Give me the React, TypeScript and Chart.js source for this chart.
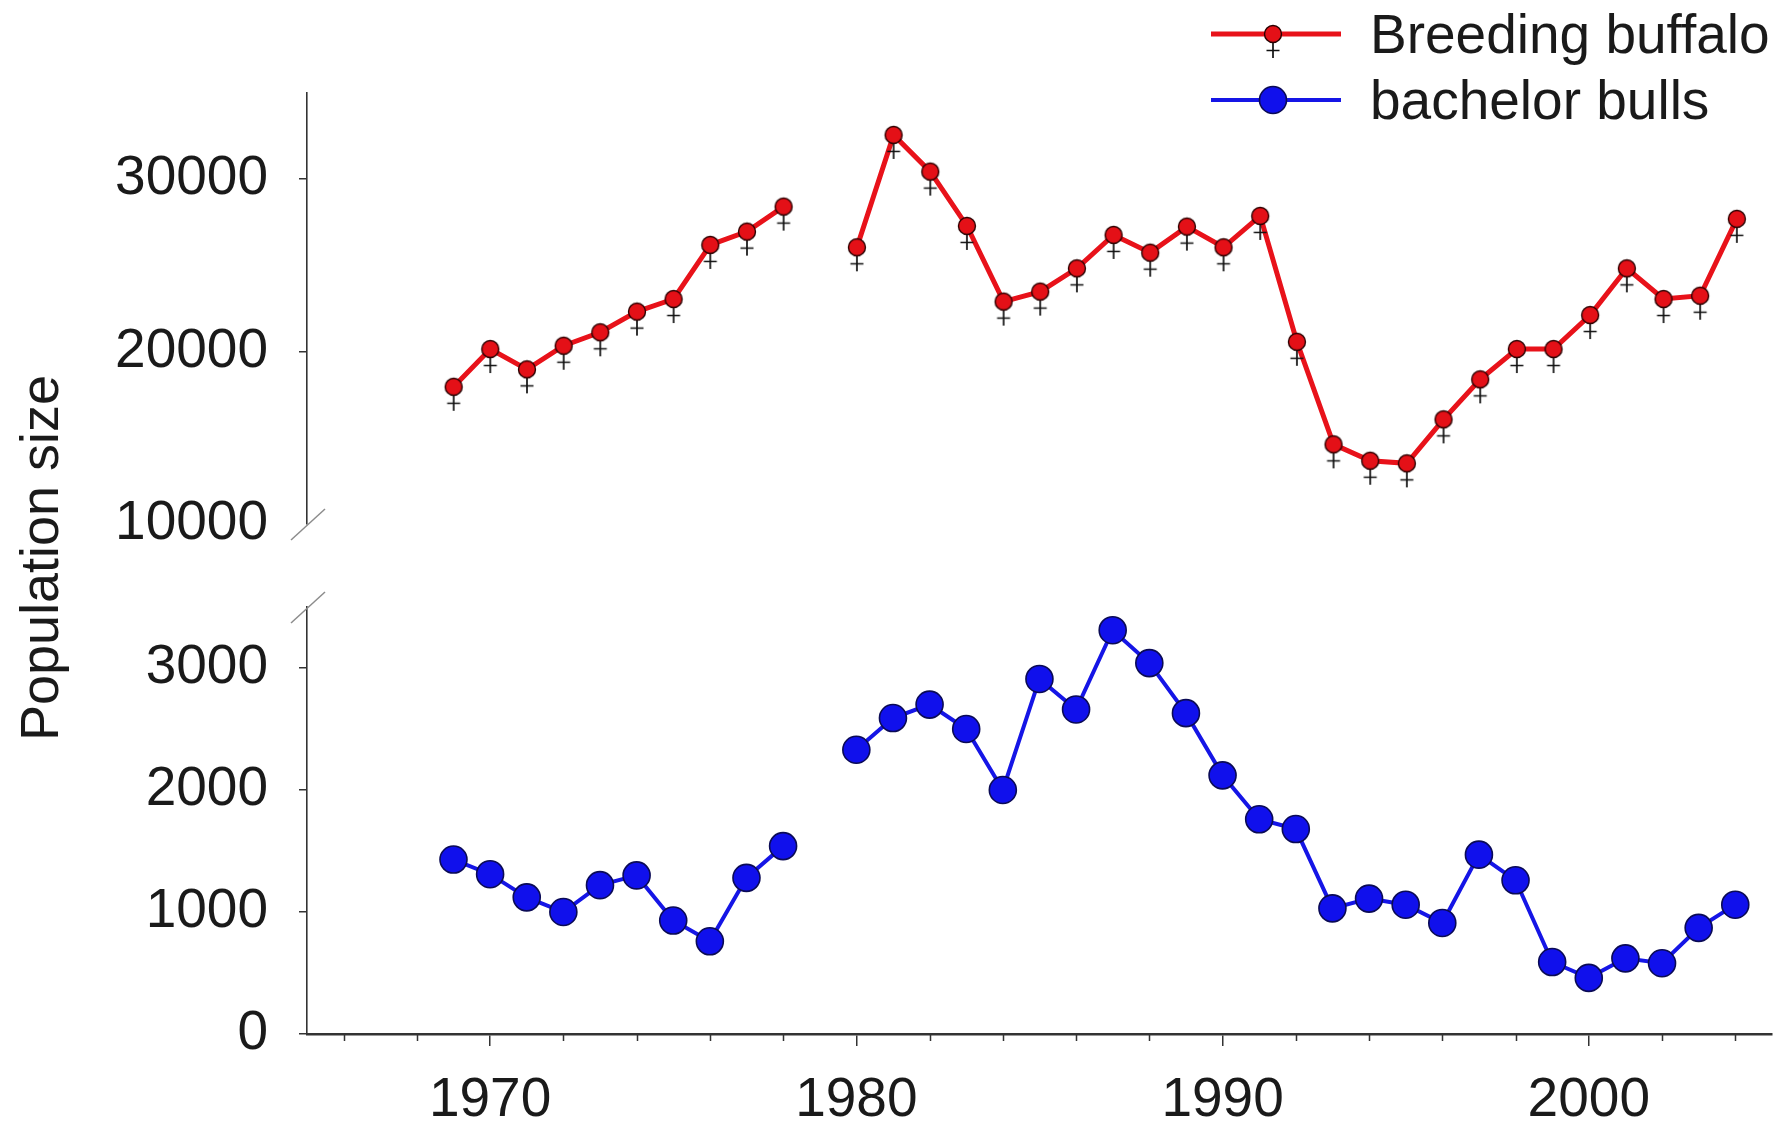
import React, { useEffect, useRef } from 'react';
import { Chart, registerables } from 'chart.js';

Chart.register(...registerables);

// ---------------- data ----------------
const YEARS = [
  1969, 1970, 1971, 1972, 1973, 1974, 1975, 1976, 1977, 1978, 1979,
  1980, 1981, 1982, 1983, 1984, 1985, 1986, 1987, 1988, 1989,
  1990, 1991, 1992, 1993, 1994, 1995, 1996, 1997, 1998, 1999,
  2000, 2001, 2002, 2003, 2004,
];
const BREEDING = [
  17960, 20150, 18970, 20340, 21120, 22320, 23050, 26190, 26960, 28410, null,
  26050, 32570, 30440, 27290, 22900, 23480, 24830, 26770, 25740, 27250,
  26050, 27870, 20570, 14620, 13670, 13520, 16070, 18390, 20150, 20150,
  22120, 24830, 23050, 23240, 27700,
];
const BULLS = [
  1430, 1310, 1120, 1000, 1220, 1300, 930, 760, 1280, 1540, null,
  2330, 2590, 2700, 2500, 2000, 2910, 2660, 3310, 3040, 2630,
  2120, 1760, 1680, 1030, 1110, 1060, 910, 1470, 1260, 590,
  460, 620, 580, 870, 1060,
];
const SERIES_LABELS = ['Breeding buffalo', 'bachelor bulls'];
const Y_TITLE = 'Population size';
const X_RANGE = [1965, 2005];
const TOP_Y_RANGE = [10000, 35000];
const BOTTOM_Y_RANGE = [0, 3500];
const TOP_Y_TICKS = [10000, 20000, 30000];
const BOTTOM_Y_TICKS = [0, 1000, 2000, 3000];
const X_MAJOR_TICKS = [1970, 1980, 1990, 2000];
const X_MINOR_TICKS = [1966, 1968, 1972, 1974, 1976, 1978, 1982, 1984, 1986, 1988, 1992, 1994, 1996, 1998, 2002, 2004];

// ---------------- styles ----------------
const W = 1787;
const H = 1128;
const FONT = "'Liberation Sans', Arial, Helvetica, sans-serif";
const FONT_SIZE = 55;
const TITLE_SIZE = 54;
const TEXT = '#1a1a1a';
const AXIS = '#333333';
const RED = '#e8121a';
const RED_FILL = '#e41017';
const BLUE = '#1515e6';
const BLUE_FILL = '#1010ec';
const BLUE_EDGE = '#0b0b55';
const RED_WIDTH = 5;
const BLUE_WIDTH = 4;

function makeRedMarker(): HTMLCanvasElement {
  const c = document.createElement('canvas');
  c.width = 28;
  c.height = 52;
  const ctx = c.getContext('2d')!;
  const cx = 14;
  const cy = 26;
  // cross below the circle
  ctx.strokeStyle = '#111';
  ctx.lineWidth = 1.7;
  ctx.beginPath();
  ctx.moveTo(cx, cy + 9);
  ctx.lineTo(cx, cy + 24);
  ctx.moveTo(cx - 6.5, cy + 16.5);
  ctx.lineTo(cx + 6.5, cy + 16.5);
  ctx.stroke();
  // circle
  ctx.beginPath();
  ctx.arc(cx, cy, 8.5, 0, Math.PI * 2);
  ctx.fillStyle = RED_FILL;
  ctx.fill();
  ctx.lineWidth = 1.4;
  ctx.strokeStyle = '#2a0000';
  ctx.stroke();
  return c;
}

function makeBlueMarker(): HTMLCanvasElement {
  const c = document.createElement('canvas');
  c.width = 32;
  c.height = 32;
  const ctx = c.getContext('2d')!;
  ctx.beginPath();
  ctx.arc(16, 16, 13.5, 0, Math.PI * 2);
  ctx.fillStyle = BLUE_FILL;
  ctx.fill();
  ctx.lineWidth = 1.6;
  ctx.strokeStyle = BLUE_EDGE;
  ctx.stroke();
  return c;
}

const breakMarkPlugin = {
  id: 'breakMark',
  afterDraw(chart: any, _args: any, opts: any) {
    const { ctx, chartArea } = chart;
    const x = chartArea.left;
    const y = opts.at === 'bottom' ? chartArea.bottom : chartArea.top;
    ctx.save();
    ctx.strokeStyle = '#8c8c8c';
    ctx.lineWidth = 1.5;
    ctx.beginPath();
    ctx.moveTo(x - 16, y + 16);
    ctx.lineTo(x + 18, y - 15);
    ctx.stroke();
    ctx.restore();
  },
};

const minorTickPlugin = {
  id: 'minorTicks',
  afterDraw(chart: any) {
    const { ctx, chartArea, scales } = chart;
    const xs = scales.x;
    ctx.save();
    ctx.strokeStyle = AXIS;
    ctx.lineWidth = 1.5;
    ctx.beginPath();
    X_MINOR_TICKS.forEach((v) => {
      const px = Math.round(xs.getPixelForValue(v)) + 0.5;
      ctx.moveTo(px, chartArea.bottom);
      ctx.lineTo(px, chartArea.bottom + 7);
    });
    ctx.stroke();
    ctx.restore();
  },
};

const yTitlePlugin = {
  id: 'yTitle',
  afterDraw(chart: any) {
    const { ctx } = chart;
    ctx.save();
    ctx.translate(58, 558);
    ctx.rotate(-Math.PI / 2);
    ctx.font = `${TITLE_SIZE}px ${FONT}`;
    ctx.fillStyle = TEXT;
    ctx.textAlign = 'center';
    ctx.textBaseline = 'alphabetic';
    ctx.fillText(Y_TITLE, 0, 0);
    ctx.restore();
  },
};

const legendPlugin = {
  id: 'sideLegend',
  afterDraw(chart: any, _args: any, opts: any) {
    const { ctx } = chart;
    const items = opts.items as { label: string; color: string; width: number; marker: HTMLCanvasElement }[];
    ctx.save();
    items.forEach((it, i) => {
      const y = 34 + i * 66;
      ctx.strokeStyle = it.color;
      ctx.lineWidth = it.width;
      ctx.beginPath();
      ctx.moveTo(1211, y);
      ctx.lineTo(1341, y);
      ctx.stroke();
      ctx.drawImage(it.marker, 1273 - it.marker.width / 2, y - it.marker.height / 2);
      ctx.font = `${FONT_SIZE}px ${FONT}`;
      ctx.fillStyle = TEXT;
      ctx.textAlign = 'left';
      ctx.textBaseline = 'alphabetic';
      ctx.fillText(it.label, 1370, y + 19);
    });
    ctx.restore();
  },
};

function yScale(range: number[], ticks: number[], hideTick?: number) {
  return {
    type: 'linear',
    min: range[0],
    max: range[1],
    afterFit: (s: any) => {
      s.width = 307;
    },
    afterBuildTicks: (s: any) => {
      s.ticks = ticks.map((v) => ({ value: v }));
    },
    border: { display: true, color: AXIS, width: 1.6 },
    grid: {
      drawOnChartArea: false,
      drawTicks: true,
      tickLength: 8,
      lineWidth: 1.5,
      color: (c: any) => (hideTick !== undefined && c.tick && c.tick.value === hideTick ? 'rgba(0,0,0,0)' : AXIS),
    },
    ticks: {
      font: { family: FONT, size: FONT_SIZE },
      color: TEXT,
      padding: 31,
      autoSkip: false,
      callback: (v: any) => String(v),
    },
  };
}

export default function App() {
  const topRef = useRef<HTMLCanvasElement>(null);
  const botRef = useRef<HTMLCanvasElement>(null);

  useEffect(() => {
    const redMarker = makeRedMarker();
    const blueMarker = makeBlueMarker();

    const topData = YEARS.map((x, i) => ({ x, y: BREEDING[i] }));
    const botData = YEARS.map((x, i) => ({ x, y: BULLS[i] }));

    const top = new Chart(topRef.current!, {
      type: 'line',
      data: {
        datasets: [
          {
            label: SERIES_LABELS[0],
            data: topData as any,
            borderColor: RED,
            borderWidth: RED_WIDTH,
            pointStyle: redMarker as any,
            pointRadius: 8.5,
            spanGaps: false,
            tension: 0,
          },
        ],
      },
      options: {
        animation: false,
        responsive: false,
        layout: { padding: { left: 0, top: 93, right: 10, bottom: H - 524 } },
        plugins: {
          legend: { display: false },
          tooltip: { enabled: false },
          breakMark: { at: 'bottom' },
          sideLegend: {
            items: [
              { label: SERIES_LABELS[0], color: RED, width: RED_WIDTH, marker: redMarker },
              { label: SERIES_LABELS[1], color: BLUE, width: BLUE_WIDTH, marker: blueMarker },
            ],
          },
        } as any,
        scales: {
          x: { type: 'linear', min: X_RANGE[0], max: X_RANGE[1], display: false },
          y: yScale(TOP_Y_RANGE, TOP_Y_TICKS, 10000) as any,
        },
      },
      plugins: [breakMarkPlugin, legendPlugin],
    });

    const bot = new Chart(botRef.current!, {
      type: 'line',
      data: {
        datasets: [
          {
            label: SERIES_LABELS[1],
            data: botData as any,
            borderColor: BLUE,
            borderWidth: BLUE_WIDTH,
            pointStyle: 'circle',
            pointRadius: 13.5,
            pointBackgroundColor: BLUE_FILL,
            pointBorderColor: BLUE_EDGE,
            pointBorderWidth: 1.6,
            spanGaps: false,
            tension: 0,
          },
        ],
      },
      options: {
        animation: false,
        responsive: false,
        layout: { padding: { left: 0, top: 607, right: 10, bottom: 0 } },
        plugins: {
          legend: { display: false },
          tooltip: { enabled: false },
          breakMark: { at: 'top' },
        } as any,
        scales: {
          x: {
            type: 'linear',
            min: X_RANGE[0],
            max: X_RANGE[1],
            afterFit: (s: any) => {
              s.height = H - 1034;
            },
            afterBuildTicks: (s: any) => {
              s.ticks = X_MAJOR_TICKS.map((v) => ({ value: v }));
            },
            border: { display: true, color: AXIS, width: 2.5 },
            grid: { drawOnChartArea: false, drawTicks: true, tickLength: 12, lineWidth: 1.5, color: AXIS },
            ticks: {
              font: { family: FONT, size: FONT_SIZE },
              color: TEXT,
              padding: 22,
              maxRotation: 0,
              autoSkip: false,
              callback: (v: any) => String(v),
            },
          } as any,
          y: yScale(BOTTOM_Y_RANGE, BOTTOM_Y_TICKS) as any,
        },
      },
      plugins: [breakMarkPlugin, minorTickPlugin, yTitlePlugin],
    });

    return () => {
      top.destroy();
      bot.destroy();
    };
  }, []);

  const canvasStyle: React.CSSProperties = { position: 'absolute', left: 0, top: 0, width: W, height: H };
  return (
    <div style={{ position: 'absolute', left: 0, top: 0, width: W, height: H, background: '#ffffff' }}>
      <canvas ref={botRef} width={W} height={H} style={canvasStyle} />
      <canvas ref={topRef} width={W} height={H} style={canvasStyle} />
    </div>
  );
}
